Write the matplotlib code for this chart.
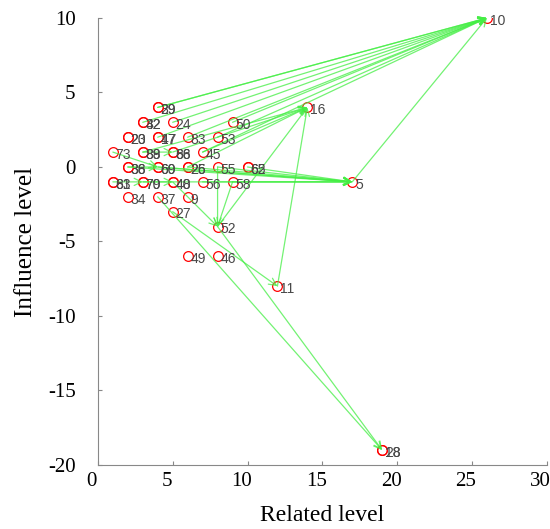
import matplotlib.pyplot as plt
import matplotlib.transforms as mtransforms

# node labels and coordinates (overlapping nodes share a position)
labels = ['10', '16', '5', '11', '28', '18', '52', '49', '46', '27',
          '37', '9', '34', '63', '81', '70', '79', '40', '48', '56',
          '58', '36', '38', '60', '69', '25', '26', '55', '62', '65',
          '73', '88', '89', '68', '86', '45', '20', '23', '47', '17',
          '83', '53', '32', '42', '24', '50', '39', '29']
rel = [26, 14, 17, 12, 19, 19, 8, 6, 8, 5,
       4, 6, 2, 1, 1, 3, 3, 5, 5, 7,
       9, 2, 2, 4, 4, 6, 6, 8, 10, 10,
       1, 3, 3, 5, 5, 7, 2, 2, 4, 4,
       6, 8, 3, 3, 5, 9, 4, 4]
inf = [10, 4, -1, -8, -19, -19, -4, -6, -6, -3,
       -2, -2, -2, -1, -1, -1, -1, -1, -1, -1,
       -1, 0, 0, 0, 0, 0, 0, 0, 0, 0,
       1, 1, 1, 1, 1, 1, 2, 2, 2, 2,
       2, 2, 3, 3, 3, 3, 4, 4]

# directed links (from, to)
edges = [('39', '10'), ('32', '10'), ('24', '10'), ('17', '10'), ('83', '10'),
         ('50', '10'), ('53', '10'), ('45', '10'), ('29', '10'), ('5', '10'),
         ('88', '16'), ('45', '16'), ('26', '16'), ('68', '16'), ('11', '16'),
         ('52', '16'),
         ('36', '5'), ('60', '5'), ('25', '5'), ('55', '5'), ('62', '5'),
         ('58', '5'), ('70', '5'), ('56', '5'), ('69', '5'),
         ('40', '52'), ('55', '52'), ('58', '52'),
         ('27', '11'), ('37', '28'), ('52', '28'),
         ('73', '60'), ('63', '70'), ('70', '40'), ('89', '68'), ('38', '69')]

pos = {l: (x, y) for l, x, y in zip(labels, rel, inf)}

plt.rcParams['font.family'] = ['Liberation Serif', 'DejaVu Serif']
plt.rcParams['axes.unicode_minus'] = False
fig = plt.figure(figsize=(5.5, 5.29), dpi=100)
ax = fig.add_axes([0.178, 0.121, 0.816, 0.845])

for a, b in edges:
    ax.annotate('', xy=pos[b], xytext=pos[a],
                arrowprops=dict(arrowstyle='->', color='#44ee44', lw=0.9,
                                alpha=0.75, shrinkA=0, shrinkB=0,
                                mutation_scale=13))

ax.plot(rel, inf, 'o', mfc='none', mec='red', ms=7, mew=0.9)
for l, x, y in zip(labels, rel, inf):
    ax.annotate(l, (x, y), xytext=(2, -2), textcoords='offset points',
                fontsize=10, color='#484848', va='center', ha='left',
                family=['Liberation Sans', 'DejaVu Sans'])

ax.set_xlim(0, 30)
ax.set_ylim(-20, 10)
ax.set_xticks([0, 5, 10, 15, 20, 25, 30])
ax.set_yticks([-20, -15, -10, -5, 0, 5, 10])
ax.tick_params(direction='in', length=3, color='#888888', labelsize=15)
ax.tick_params(axis='y', pad=16)
ax.tick_params(axis='x', pad=5)
shift = mtransforms.ScaledTranslation(-6 / 100, 0, fig.dpi_scale_trans)
for t in ax.get_xticklabels():
    t.set_transform(t.get_transform() + shift)
for s in ['top', 'right']:
    ax.spines[s].set_visible(False)
for s in ['left', 'bottom']:
    ax.spines[s].set_color('#888888')
ax.set_xlabel('Related level', fontsize=17, labelpad=10)
ax.set_ylabel('Influence level', fontsize=18, labelpad=8)

fig.savefig('out.png')
